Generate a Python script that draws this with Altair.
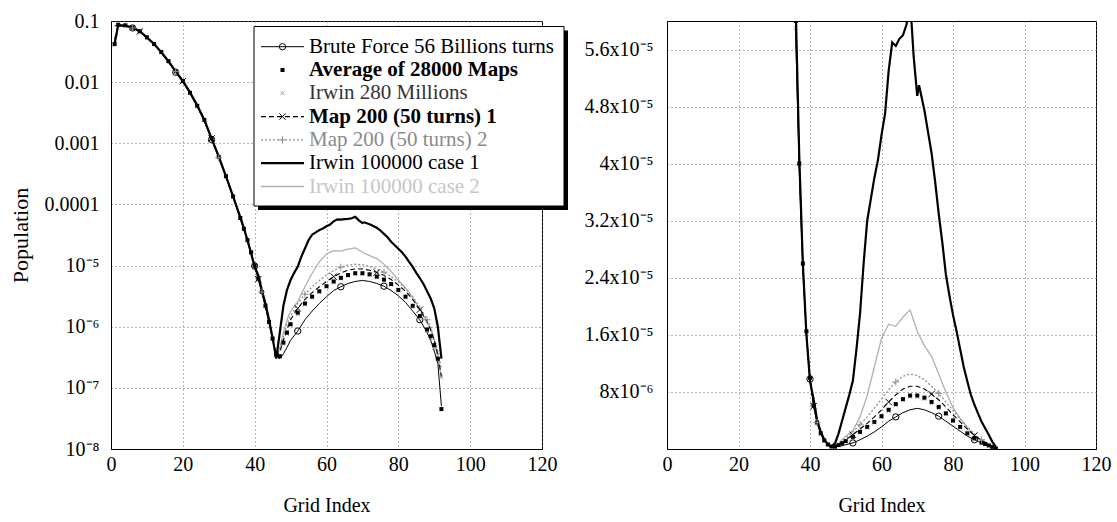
import altair as alt
import pandas as pd

# ---------------- data ----------------
X_MAIN = [1, 2, 4, 6, 8, 10, 12, 14, 16, 18, 20, 22, 24, 26, 28, 30, 32, 34,
          36, 37, 38, 39, 40, 41, 42, 43, 44, 45,
          46, 47, 48, 49, 50, 52, 54, 56, 58, 60, 62, 64, 66, 68, 70, 72, 74, 76,
          78, 80, 82, 84, 86, 88, 89, 90, 91, 92]

BRUTE = [0.083, 0.086, 0.084, 0.077, 0.067, 0.053, 0.041, 0.030, 0.021, 0.0145, 0.0100, 0.0065,
         0.0040, 0.0023, 0.00115, 5.8e-4, 2.8e-4, 1.3e-4, 5.8e-5, 3.9e-5, 2.5e-5, 1.6e-5, 9.8e-6,
         6.0e-6, 3.6e-6, 2.1e-6, 1.15e-6, 6.2e-7,
         3.3e-7, 3.0e-7, 3.6e-7, 4.6e-7, 6.0e-7, 8.5e-7, 1.3e-6, 1.8e-6, 2.4e-6, 3.1e-6, 3.9e-6,
         4.5e-6, 5.1e-6, 5.5e-6, 5.7e-6, 5.5e-6, 5.1e-6, 4.6e-6, 3.9e-6, 3.2e-6, 2.5e-6, 1.8e-6,
         1.3e-6, 8.0e-7, 6.0e-7, 4.0e-7, 2.5e-7, 5.0e-8]

AVERAGE = [0.042, 0.087, 0.085, 0.078, 0.068, 0.054, 0.042, 0.031, 0.022, 0.015, 0.0104, 0.0067,
           0.0041, 0.0024, 0.0012, 6.0e-4, 2.9e-4, 1.35e-4, 6.0e-5, 4.0e-5, 2.6e-5, 1.65e-5, 1.0e-5,
           6.1e-6, 3.7e-6, 2.2e-6, 1.2e-6, 6.4e-7,
           3.5e-7, 3.3e-7, 5.5e-7, 8.0e-7, 1.1e-6, 1.7e-6, 2.4e-6, 3.1e-6, 3.8e-6, 4.6e-6, 5.5e-6,
           6.3e-6, 7.0e-6, 7.5e-6, 7.5e-6, 7.2e-6, 6.6e-6, 5.9e-6, 5.0e-6, 4.0e-6, 3.1e-6, 2.2e-6,
           1.5e-6, 9.0e-7, 7.0e-7, 5.0e-7, 3.0e-7, 4.5e-8]

IRWIN_280M = [0.041, 0.085, 0.084, 0.077, 0.068, 0.054, 0.042, 0.031, 0.022, 0.015, 0.0103, 0.0067,
              0.0041, 0.0024, 0.0012, 5.9e-4, 2.9e-4, 1.33e-4, 5.9e-5, 4.0e-5, 2.6e-5, 1.62e-5, 9.9e-6,
              6.1e-6, 3.7e-6, 2.2e-6, 1.2e-6, 6.3e-7,
              3.4e-7, 3.2e-7, 5.2e-7, 7.6e-7, 1.05e-6, 1.6e-6, 2.3e-6, 3.0e-6, 3.7e-6, 4.5e-6, 5.3e-6,
              6.1e-6, 6.8e-6, 7.3e-6, 7.3e-6, 7.0e-6, 6.4e-6, 5.7e-6, 4.9e-6, 3.9e-6, 3.0e-6, 2.1e-6,
              1.4e-6, 8.5e-7, 6.5e-7, 4.5e-7, 2.8e-7, 1.5e-7]

MAP_1 = [0.050, 0.086, 0.084, 0.077, 0.067, 0.053, 0.041, 0.031, 0.022, 0.015, 0.0104, 0.0067,
         0.0041, 0.0024, 0.0012, 5.9e-4, 2.9e-4, 1.34e-4, 6.0e-5, 4.0e-5, 2.6e-5, 1.6e-5, 1.0e-5,
         6.0e-6, 3.8e-6, 2.2e-6, 1.2e-6, 6.4e-7,
         3.5e-7, 3.8e-7, 6.0e-7, 9.0e-7, 1.3e-6, 2.0e-6, 2.8e-6, 3.6e-6, 4.5e-6, 5.5e-6, 6.6e-6,
         7.6e-6, 8.4e-6, 8.8e-6, 8.8e-6, 8.4e-6, 7.7e-6, 6.9e-6, 5.9e-6, 4.8e-6, 3.8e-6, 2.8e-6,
         1.9e-6, 1.2e-6, 9.0e-7, 6.0e-7, 3.5e-7, 1.5e-7]

MAP_2 = [0.045, 0.085, 0.083, 0.077, 0.067, 0.053, 0.041, 0.030, 0.021, 0.015, 0.0102, 0.0066,
         0.0040, 0.0023, 0.00118, 5.8e-4, 2.8e-4, 1.3e-4, 5.9e-5, 3.9e-5, 2.5e-5, 1.6e-5, 9.7e-6,
         6.0e-6, 3.7e-6, 2.1e-6, 1.2e-6, 6.2e-7,
         3.4e-7, 4.2e-7, 7.0e-7, 1.1e-6, 1.5e-6, 2.4e-6, 3.4e-6, 4.5e-6, 5.7e-6, 7.0e-6, 8.3e-6,
         9.4e-6, 1.02e-5, 1.05e-5, 1.03e-5, 9.7e-6, 8.8e-6, 7.8e-6, 6.6e-6, 5.4e-6, 4.2e-6, 3.1e-6,
         2.1e-6, 1.3e-6, 1.0e-6, 6.0e-7, 4.0e-7, 2.0e-7]

IRWIN_CASE2 = [0.040, 0.085, 0.084, 0.078, 0.068, 0.054, 0.042, 0.031, 0.022, 0.015, 0.0104, 0.0067,
               0.0041, 0.0024, 0.0012, 6.0e-4, 2.9e-4, 1.35e-4, 6.1e-5, 4.1e-5, 2.6e-5, 1.65e-5, 1.0e-5,
               6.2e-6, 3.8e-6, 2.2e-6, 1.2e-6, 6.3e-7,
               3.2e-7, 4.5e-7, 8.0e-7, 1.3e-6, 1.8e-6, 2.6e-6, 4.5e-6, 7.5e-6, 1.15e-5, 1.55e-5, 1.75e-5,
               1.72e-5, 1.85e-5, 1.95e-5, 1.65e-5, 1.45e-5, 1.3e-5, 1.05e-5, 8.0e-6, 5.8e-6, 4.3e-6, 3.0e-6,
               1.9e-6, 1.2e-6, 9.0e-7, 6.0e-7, 3.0e-7, 1.5e-7]

X_IRWIN1 = [1, 2, 4, 6, 8, 10, 12, 14, 16, 18, 20, 22, 24, 26, 28, 30, 32, 34,
            36, 37, 38, 39, 40, 41, 42, 43, 44, 45,
            46, 47, 48, 49, 50, 51, 52, 53, 54, 55, 56, 57, 58, 59, 60, 61, 62, 63, 64, 65, 66, 67, 68, 69, 70,
            70.5,
            72, 73, 74, 75, 76, 77, 78, 79, 80, 81, 82, 83, 84, 85, 86, 87, 88, 89, 90, 91, 92]

IRWIN_CASE1 = [0.042, 0.085, 0.084, 0.078, 0.068, 0.054, 0.042, 0.031, 0.022, 0.015, 0.0105, 0.0068,
               0.0042, 0.0024, 0.0012, 6.1e-4, 2.9e-4, 1.35e-4, 6.2e-5, 4.1e-5, 2.6e-5, 1.6e-5, 9.5e-6,
               7.0e-6, 4.0e-6, 2.4e-6, 1.3e-6, 6.5e-7,
               3.0e-7, 8.0e-7, 2.2e-6, 4.0e-6, 5.8e-6, 7.6e-6, 9.6e-6, 1.4e-5, 1.9e-5, 2.6e-5, 3.2e-5,
               3.5e-5, 3.8e-5, 4.05e-5, 4.4e-5, 4.7e-5, 5.3e-5, 5.7e-5, 5.65e-5, 5.75e-5, 5.8e-5, 5.95e-5,
               6.3e-5, 5.5e-5, 4.95e-5,
               5.1e-5,
               4.75e-5, 4.45e-5, 4.15e-5, 3.75e-5, 3.3e-5, 2.9e-5, 2.45e-5, 2.15e-5, 1.88e-5, 1.65e-5,
               1.4e-5, 1.15e-5, 9.5e-6, 7.6e-6, 6.2e-6, 5.0e-6, 3.8e-6, 2.9e-6, 2.0e-6, 1.0e-6, 3.0e-7]

BRUTE_MARK_X = [6, 18, 28, 40, 52, 64, 76, 86]
MAP1_MARK_X = [8, 20, 28, 41, 52, 62, 74, 86]
MAP2_MARK_X = [6, 18, 30, 42, 54, 64, 76, 88]

X_TICKS = [0, 20, 40, 60, 80, 100, 120]
LOG_TICKS = [1e-8, 1e-7, 1e-6, 1e-5, 1e-4, 1e-3, 1e-2, 1e-1]
LIN_TICKS = [8e-6, 1.6e-5, 2.4e-5, 3.2e-5, 4.0e-5, 4.8e-5, 5.6e-5]

NAMES = ["Brute Force 56 Billions turns", "Average of 28000 Maps", "Irwin 280 Millions",
         "Map 200 (50 turns) 1", "Map 200 (50 turns) 2", "Irwin 100000 case 1", "Irwin 100000 case 2"]

for arr in (BRUTE, AVERAGE, IRWIN_280M, MAP_1, MAP_2, IRWIN_CASE2):
    assert len(arr) == len(X_MAIN), len(arr)
assert len(IRWIN_CASE1) == len(X_IRWIN1), (len(IRWIN_CASE1), len(X_IRWIN1))

# ---------------- tables ----------------
def frame(xs, ys):
    return pd.DataFrame({"x": xs, "y": ys})

def marks(xs, ys, keep):
    d = frame(xs, ys)
    return d[d["x"].isin(keep)]

df_brute = frame(X_MAIN, BRUTE)
df_avg = frame(X_MAIN, AVERAGE)
df_i280 = frame(X_MAIN, IRWIN_280M)
df_m1 = frame(X_MAIN, MAP_1)
df_m2 = frame(X_MAIN, MAP_2)
df_i2 = frame(X_MAIN, IRWIN_CASE2)
df_i1 = frame(X_IRWIN1, IRWIN_CASE1)
df_brute_m = marks(X_MAIN, BRUTE, BRUTE_MARK_X)
df_m1_m = marks(X_MAIN, MAP_1, MAP1_MARK_X)
df_m2_m = marks(X_MAIN, MAP_2, MAP2_MARK_X)

SERIF = "Liberation Serif"
X_PATH = "M-1,-1L1,1M-1,1L1,-1"
PLUS_PATH = "M-1,0L1,0M0,-1L0,1"
GRAY_LINE = "#8e8e8e"
LIGHT_LINE = "#b0b0b0"

PW_L, PW_R, PH = 431, 429, 428

LOG_LABELS = ("datum.value >= 0.00009 ? format(datum.value, '.4~f') : "
              "'10' + replace(replace(replace(replace(replace('' + round(log(datum.value)/LN10), '-', '⁻'), "
              "'5', '⁵'), '6', '⁶'), '7', '⁷'), '8', '⁸')")
LIN_LABELS = ("datum.value < 0.00001 ? format(datum.value * 1000000, '.2~f') + 'x10⁻⁶' : "
              "format(datum.value * 100000, '.2~f') + 'x10⁻⁵'")


def panel(yscale, yaxis, clip):
    xenc = alt.X("x:Q", scale=alt.Scale(domain=[0, 120], nice=False),
                 axis=alt.Axis(values=X_TICKS, title="Grid Index", format="d"))
    yenc = alt.Y("y:Q", scale=yscale, axis=yaxis)

    def line(d, color, width, dash=None):
        kw = dict(color=color, strokeWidth=width, clip=clip)
        if dash:
            kw["strokeDash"] = dash
        return alt.Chart(d).mark_line(**kw).encode(x=xenc, y=yenc)

    def pts(d, shape, color, size, filled, width=1):
        return alt.Chart(d).mark_point(shape=shape, color=color, size=size, filled=filled,
                                       strokeWidth=width, opacity=1, clip=clip).encode(x=xenc, y=yenc)

    return [
        line(df_i2, LIGHT_LINE, 1.3),
        line(df_m2, GRAY_LINE, 1.3, [2, 2]),
        line(df_brute, "black", 1),
        line(df_m1, "black", 1.1, [5, 3]),
        pts(df_i280, X_PATH, "#999999", 14, False),
        pts(df_avg, "square", "black", 16, True),
        line(df_i1, "black", 2.2),
        pts(df_brute_m, "circle", "black", 40, False),
        pts(df_m1_m, X_PATH, "black", 40, False),
        pts(df_m2_m, PLUS_PATH, GRAY_LINE, 50, False),
    ]


# ---------------- legend (inside left panel) ----------------
LEGEND_STYLE = [
    dict(tc="black", fw="normal", line=("black", 1, None), mk=("circle", "black", 40, False)),
    dict(tc="black", fw="bold", line=None, mk=("square", "black", 16, True)),
    dict(tc="#333333", fw="normal", line=None, mk=(X_PATH, "#999999", 14, False)),
    dict(tc="black", fw="bold", line=("black", 1.1, [5, 3]), mk=(X_PATH, "black", 40, False)),
    dict(tc="#8a8a8a", fw="normal", line=(GRAY_LINE, 1.3, [2, 2]), mk=(PLUS_PATH, GRAY_LINE, 50, False)),
    dict(tc="black", fw="normal", line=("black", 2.2, None), mk=None),
    dict(tc="#c6c6c6", fw="normal", line=(LIGHT_LINE, 1.3, None), mk=None),
]
LEG_X0, LEG_X1, LEG_Y0, LEG_Y1 = 143, 453, 5.5, 185
LEG_ROW0, LEG_STEP = 25.7, 23.3
SYM_X0, SYM_X1, TXT_X = 150, 193, 198

one = pd.DataFrame({"k": [0]})
legend_layers = [
    alt.Chart(one).mark_rect(color="black").encode(
        x=alt.value(LEG_X0 + 4), x2=alt.value(LEG_X1 + 4), y=alt.value(LEG_Y0 + 4), y2=alt.value(LEG_Y1 + 4)),
    alt.Chart(one).mark_rect(fill="white", stroke="black", strokeWidth=1).encode(
        x=alt.value(LEG_X0), x2=alt.value(LEG_X1), y=alt.value(LEG_Y0), y2=alt.value(LEG_Y1)),
]
for i, (name, st) in enumerate(zip(NAMES, LEGEND_STYLE)):
    yy = LEG_ROW0 + i * LEG_STEP
    if st["line"]:
        c, w, dash = st["line"]
        kw = dict(color=c, strokeWidth=w)
        if dash:
            kw["strokeDash"] = dash
        legend_layers.append(alt.Chart(one).mark_rule(**kw).encode(
            x=alt.value(SYM_X0), x2=alt.value(SYM_X1), y=alt.value(yy)))
    if st["mk"]:
        shp, c, s, f = st["mk"]
        legend_layers.append(alt.Chart(one).mark_point(shape=shp, color=c, size=s, filled=f,
                                                       opacity=1, strokeWidth=1).encode(
            x=alt.value((SYM_X0 + SYM_X1) / 2), y=alt.value(yy)))
    legend_layers.append(alt.Chart(pd.DataFrame({"label": [name]})).mark_text(
        align="left", baseline="middle", font=SERIF, fontSize=21, fontWeight=st["fw"], color=st["tc"]
    ).encode(x=alt.value(TXT_X), y=alt.value(yy), text="label:N"))

# ---------------- panels ----------------
left_scale = alt.Scale(type="log", domain=[1e-8, 0.1], nice=False)
left_axis = alt.Axis(values=LOG_TICKS, labelExpr=LOG_LABELS, title="Population",
                     titleFontSize=22, titlePadding=12, labelPadding=12)
right_scale = alt.Scale(domain=[0, 6e-5], nice=False, zero=True)
right_axis = alt.Axis(values=LIN_TICKS, labelExpr=LIN_LABELS, title="", labelPadding=14)

left = alt.layer(*panel(left_scale, left_axis, False), *legend_layers).properties(width=PW_L, height=PH)
right = alt.layer(*panel(right_scale, right_axis, True)).properties(width=PW_R, height=PH)

chart = alt.hconcat(left, right, spacing=125, bounds="flush").properties(
    padding={"left": 8, "top": 10, "right": 5, "bottom": 5}
).configure_view(
    stroke="black", strokeWidth=1
).configure_axis(
    labelFont=SERIF, labelFontSize=20, labelColor="black",
    titleFont=SERIF, titleFontSize=20, titleFontWeight="normal", titleColor="black",
    domainColor="black", domainWidth=1,
    grid=True, gridColor="#6a6a6a", gridDash=[1, 3], gridWidth=1,
    ticks=False, labelFlush=False, labelOverlap=False
).configure_axisX(
    labelPadding=5, titlePadding=21
)

chart.save("out.html", embed_options={"renderer": "svg", "actions": False})
